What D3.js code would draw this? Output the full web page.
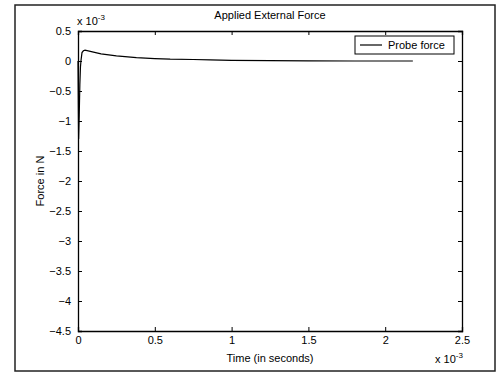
<!DOCTYPE html>
<html>
<head>
<meta charset="utf-8">
<script src="https://cdn.jsdelivr.net/npm/d3@7"></script>
<style>
  body { margin: 0; background: #fff; }
  svg text { font-family: "Liberation Sans", Arial, sans-serif; fill: #000; }
</style>
</head>
<body>
<script>
// time in units of 1e-3 s, force in units of 1e-3 N
var timeVals  = [0, 0.004, 0.008, 0.012, 0.016, 0.02, 0.026, 0.035, 0.046, 0.08, 0.15, 0.25, 0.38, 0.5, 0.6, 0.75, 0.86, 1.0, 1.25, 1.5, 1.8, 2.18];
var forceVals = [0, -1.3, -0.9, -0.4, -0.1, 0.02, 0.14, 0.17, 0.18, 0.16, 0.12, 0.085, 0.055, 0.04, 0.03, 0.025, 0.02, 0.012, 0.005, 0.002, 0.0, 0.0];
var xTicks = [0, 0.5, 1, 1.5, 2, 2.5];
var yTicks = [0.5, 0, -0.5, -1, -1.5, -2, -2.5, -3, -3.5, -4, -4.5];

var width = 498, height = 375;
var margin = {left: 78, top: 31, right: 36, bottom: 44};
var svg = d3.select("body").append("svg")
    .attr("width", width)
    .attr("height", height);

// scanned frame
svg.append("rect")
    .attr("x", 15).attr("y", 5)
    .attr("width", 480).attr("height", 366)
    .attr("fill", "none")
    .attr("stroke", "#222")
    .attr("stroke-width", 1.5);

var x = d3.scaleLinear().domain([0, 2.5]).range([margin.left, width - margin.right]);
var y = d3.scaleLinear().domain([-4.5, 0.5]).range([height - margin.bottom, margin.top]);

var fmt = function(d) { return d3.format("")(d); };

// axes with inward ticks (matlab style)
svg.append("g")
    .attr("transform", "translate(0," + y(-4.5) + ")")
    .call(d3.axisBottom(x).tickValues(xTicks).tickSize(-4).tickPadding(5).tickFormat(fmt));
svg.append("g")
    .attr("transform", "translate(0," + y(0.5) + ")")
    .call(d3.axisTop(x).tickValues(xTicks).tickSize(-4).tickFormat(""));
svg.append("g")
    .attr("transform", "translate(" + x(0) + ",0)")
    .call(d3.axisLeft(y).tickValues(yTicks).tickSize(-4).tickPadding(7).tickFormat(fmt));
svg.append("g")
    .attr("transform", "translate(" + x(2.5) + ",0)")
    .call(d3.axisRight(y).tickValues(yTicks).tickSize(-4).tickFormat(""));

svg.selectAll(".domain").attr("stroke", "#000").attr("stroke-width", 1.3);
svg.selectAll(".tick line").attr("stroke", "#000");
svg.selectAll(".tick text").style("font-size", "11px");

// the data line
var line = d3.line()
    .x(function(d) { return x(d[0]); })
    .y(function(d) { return y(d[1]); });
var pts = timeVals.map(function(t, i) { return [t, forceVals[i]]; });
svg.append("path")
    .datum(pts)
    .attr("fill", "none")
    .attr("stroke", "#000")
    .attr("stroke-width", 1.2)
    .attr("d", line);

// title and labels
svg.append("text")
    .attr("x", (x(0) + x(2.5)) / 2).attr("y", 19)
    .attr("text-anchor", "middle")
    .style("font-size", "11px")
    .text("Applied External Force");
svg.append("text")
    .attr("x", (x(0) + x(2.5)) / 2).attr("y", 362)
    .attr("text-anchor", "middle")
    .style("font-size", "11px")
    .text("Time (in seconds)");
svg.append("text")
    .attr("transform", "translate(44," + (y(0.5) + y(-4.5)) / 2 + ") rotate(-90)")
    .attr("text-anchor", "middle")
    .style("font-size", "11px")
    .text("Force in N");

// exponent labels
var expY = svg.append("text").attr("x", 77).attr("y", 25).style("font-size", "11px");
expY.append("tspan").text("x 10");
expY.append("tspan").attr("dy", -5).style("font-size", "8px").text("-3");
var expX = svg.append("text").attr("x", 435).attr("y", 363).style("font-size", "11px");
expX.append("tspan").text("x 10");
expX.append("tspan").attr("dy", -5).style("font-size", "8px").text("-3");

// legend
var lg = svg.append("g").attr("transform", "translate(355,36)");
lg.append("rect")
    .attr("width", 99).attr("height", 18)
    .attr("fill", "#fff").attr("stroke", "#000");
lg.append("line")
    .attr("x1", 5).attr("x2", 27).attr("y1", 9).attr("y2", 9)
    .attr("stroke", "#000").attr("stroke-width", 1.2);
lg.append("text")
    .attr("x", 33).attr("y", 13)
    .style("font-size", "11px")
    .text("Probe force");
</script>
</body>
</html>
